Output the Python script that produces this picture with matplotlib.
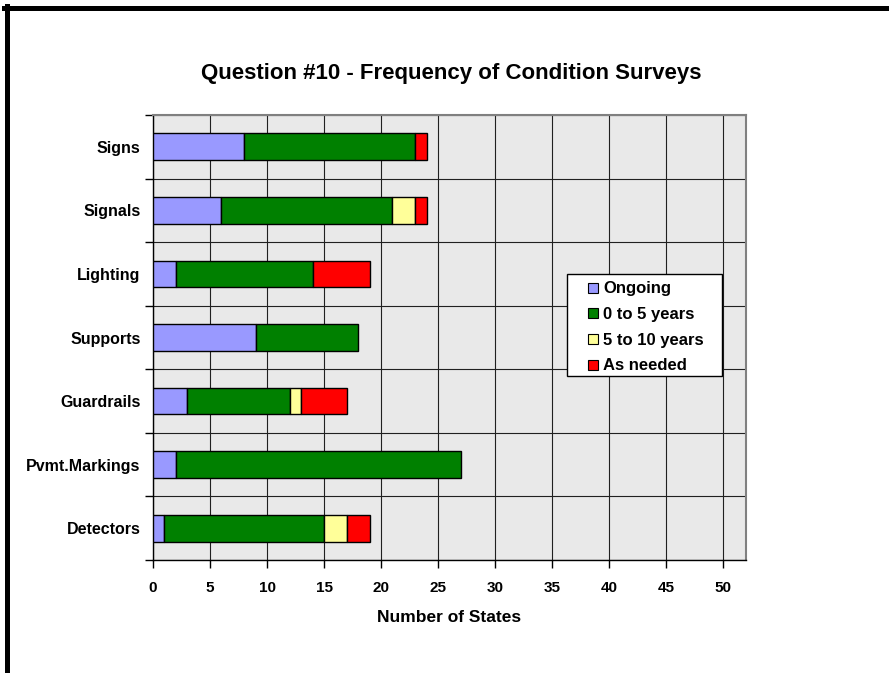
import matplotlib
matplotlib.use('Agg')
import matplotlib.pyplot as plt
from matplotlib.lines import Line2D
from matplotlib.patches import Rectangle
import numpy as np

categories = ['Signs', 'Signals', 'Lighting', 'Supports', 'Guardrails', 'Pvmt.Markings', 'Detectors']
ongoing = [8, 6, 2, 9, 3, 2, 1]
zero_to_five = [15, 15, 12, 9, 9, 25, 14]
five_to_ten = [0, 2, 0, 0, 1, 0, 2]
as_needed = [1, 1, 5, 0, 4, 0, 2]

series = [
    ('Ongoing', ongoing, '#9999FF'),
    ('0 to 5 years', zero_to_five, '#008000'),
    ('5 to 10 years', five_to_ten, '#FFFF99'),
    ('As needed', as_needed, '#FF0000'),
]

plt.rcParams['font.family'] = ['Liberation Sans', 'DejaVu Sans']
plt.rcParams['font.weight'] = 'bold'

fig = plt.figure(figsize=(8.89, 6.73), dpi=100)
ax = fig.add_axes([153 / 889, 1 - 560 / 673, 593 / 889, 445 / 673])
ax.set_facecolor('#e9e9e9')

y = np.arange(len(categories))
left = np.zeros(len(categories))
handles = []
for label, vals, color in series:
    vals = np.array(vals, dtype=float)
    mask = vals > 0
    ax.barh(y[mask], vals[mask], left=left[mask], height=0.42, color=color,
            edgecolor='black', linewidth=1.0, zorder=3)
    left += vals
    handles.append(Line2D([], [], marker='s', linestyle='none', markersize=7.5,
                          markerfacecolor=color, markeredgecolor='black',
                          markeredgewidth=0.8, label=label))

ax.set_xlim(0, 52)
ax.set_ylim(len(categories) - 0.5, -0.5)
ax.set_xticks(range(0, 51, 5))
ax.set_yticks(y)
ax.set_yticklabels(categories, fontsize=11.5, fontweight='bold')
ax.set_yticks(np.arange(-0.5, len(categories), 1), minor=True)
ax.tick_params(axis='y', which='major', length=0, pad=9)
ax.tick_params(axis='y', which='minor', length=6, width=1, direction='out')
ax.tick_params(axis='x', length=6, width=1, direction='out', labelsize=11, pad=9)
for lab in ax.get_xticklabels():
    lab.set_fontweight('bold')

ax.grid(True, axis='x', which='major', color='#202020', linewidth=0.8, zorder=1)
ax.grid(True, axis='y', which='minor', color='#202020', linewidth=0.8, zorder=1)
ax.set_axisbelow(True)

for side in ['top', 'right']:
    ax.spines[side].set_color('#808080')
    ax.spines[side].set_linewidth(1.5)
ax.spines['left'].set_linewidth(1.0)
ax.spines['bottom'].set_linewidth(1.0)

ax.set_xlabel('Number of States', fontsize=12.5, fontweight='bold', labelpad=11)

# legend box drawn separately so the padding can match
ax.add_patch(Rectangle((0.698, 0.4135), 0.2614, 0.229, transform=ax.transAxes,
                       facecolor='white', edgecolor='black', linewidth=1.0, zorder=4))
leg = ax.legend(handles=handles, loc='upper left', bbox_to_anchor=(0.7336, 0.626),
                borderaxespad=0, borderpad=0, frameon=False,
                handlelength=0.6, handletextpad=0.3, labelspacing=0.64,
                prop={'weight': 'bold', 'size': 12})
leg.set_zorder(5)

fig.text(451.5 / 889, 1 - 73 / 673, 'Question #10 - Frequency of Condition Surveys',
         ha='center', va='center', fontsize=16, fontweight='bold')

# outer frame
fig.add_artist(Line2D([4 / 889, 1], [1 - 8 / 673, 1 - 8 / 673], color='black', linewidth=3.6,
                      transform=fig.transFigure))
fig.add_artist(Line2D([7 / 889, 7 / 889], [1 - 6 / 673, 0], color='black', linewidth=3.6,
                      transform=fig.transFigure))

fig.savefig('out.png', dpi=100)
